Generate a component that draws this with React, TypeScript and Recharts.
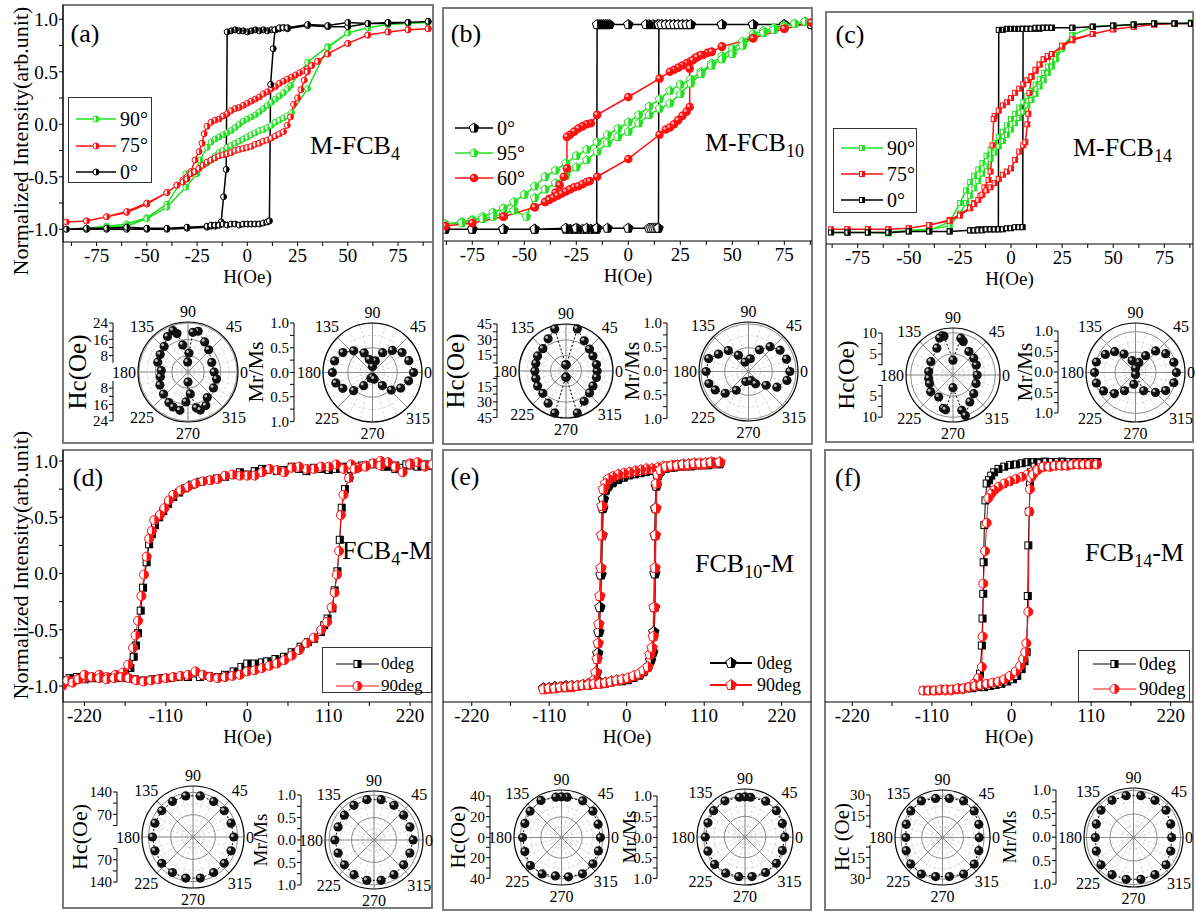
import React from 'react';
import {
  LineChart, Line, XAxis, YAxis, Legend,
  RadarChart, Radar, PolarGrid, PolarAngleAxis, PolarRadiusAxis,
} from 'recharts';

const FONT = '"Liberation Serif", "Times New Roman", serif';
const GREEN = '#22e022';
const RED = '#ff1010';
const BLACK = '#000000';

type Pt = [number, number];

// ---------- hysteresis loops: [H (Oe), normalized intensity], descending branch then ascending ----------
// (a) M-FCB4
const a90: Pt[] = [[90,0.97],[80,0.96],[70,0.95],[60,0.92],[50,0.87],[40,0.74],[30,0.59],[21.5,0.37],[20,0.34],[18,0.3],[16,0.27],[14,0.24],[12,0.21],[10,0.18],[8,0.15],[6,0.12],[4,0.09],[2,0.07],[0,0.05],[-2,0.03],[-4,0.0],[-6,-0.03],[-8,-0.06],[-10,-0.08],[-12,-0.1],[-14,-0.12],[-16,-0.14],[-18,-0.17],[-20,-0.22],[-23.5,-0.34],[-26,-0.45],[-30.6,-0.47],[-40,-0.76],[-50,-0.89],[-60,-0.95],[-70,-0.97],[-80,-0.99],[-90,-1.0],
  [-80,-1.0],[-70,-0.98],[-60,-0.97],[-50,-0.9],[-40,-0.79],[-30.6,-0.6],[-25,-0.47],[-20,-0.37],[-18,-0.34],[-16,-0.3],[-14,-0.27],[-12,-0.25],[-10,-0.22],[-8,-0.2],[-6,-0.18],[-4,-0.16],[-2,-0.14],[0,-0.12],[2,-0.1],[4,-0.08],[6,-0.06],[8,-0.05],[10,-0.03],[12,-0.01],[14,0.02],[16,0.04],[18,0.06],[20,0.08],[22,0.11],[30,0.34],[40,0.73],[50,0.87],[60,0.92],[70,0.95],[80,0.96],[90,0.97]];
const a75: Pt[] = [[90,0.91],[80,0.9],[70,0.88],[60,0.85],[50,0.77],[40,0.67],[35,0.6],[32,0.56],[30,0.53],[28,0.51],[26,0.49],[24,0.47],[22,0.45],[20,0.43],[18,0.41],[16,0.39],[14,0.36],[12,0.34],[10,0.31],[8,0.29],[6,0.26],[4,0.24],[2,0.22],[0,0.2],[-2,0.18],[-4,0.16],[-6,0.15],[-8,0.13],[-10,0.1],[-12,0.08],[-14,0.05],[-16,0.04],[-18,0.02],[-20,-0.02],[-21.5,-0.09],[-22.5,-0.18],[-24,-0.26],[-26,-0.34],[-28,-0.45],[-30,-0.5],[-32,-0.53],[-35,-0.58],[-40,-0.65],[-50,-0.76],[-60,-0.84],[-70,-0.88],[-80,-0.92],[-90,-0.93],
  [-80,-0.92],[-70,-0.88],[-60,-0.83],[-50,-0.75],[-40,-0.65],[-35,-0.58],[-32,-0.55],[-30,-0.52],[-28,-0.47],[-26,-0.45],[-24,-0.42],[-22,-0.39],[-20,-0.36],[-18,-0.34],[-16,-0.32],[-14,-0.3],[-12,-0.29],[-10,-0.28],[-8,-0.27],[-6,-0.25],[-4,-0.24],[-2,-0.23],[0,-0.22],[2,-0.21],[4,-0.19],[6,-0.18],[8,-0.16],[10,-0.15],[12,-0.13],[14,-0.11],[16,-0.09],[18,-0.07],[19.9,-0.01],[21.5,0.07],[23,0.19],[25,0.25],[26.7,0.33],[28.3,0.42],[29.9,0.5],[32,0.56],[35,0.6],[40,0.67],[50,0.77],[60,0.85],[70,0.88],[80,0.9],[90,0.91]];
const a0: Pt[] = [[90,0.98],[80,0.97],[70,0.96],[60,0.96],[50,0.93],[40,0.93],[30,0.94],[20,0.91],[18,0.92],[16,0.91],[14,0.9],[12,0.9],[10,0.89],[8,0.9],[6,0.89],[4,0.9],[2,0.89],[0,0.88],[-2,0.89],[-4,0.89],[-6,0.9],[-8,0.89],[-10,0.88],[-10.5,-0.43],[-11.8,-0.69],[-13,-0.93],[-14,-0.96],[-16,-0.97],[-18,-0.97],[-20,-0.98],[-30,-0.99],[-40,-1.0],[-50,-1.0],[-60,-1.0],[-70,-1.0],[-80,-1.0],[-90,-1.0],
  [-80,-0.99],[-70,-0.99],[-60,-0.98],[-50,-0.99],[-40,-0.99],[-30,-0.98],[-20,-0.97],[-18,-0.96],[-16,-0.96],[-14,-0.96],[-12,-0.95],[-10,-0.96],[-8,-0.95],[-6,-0.95],[-4,-0.96],[-2,-0.95],[0,-0.95],[2,-0.95],[4,-0.95],[6,-0.95],[8,-0.94],[10,-0.93],[11,-0.92],[11.6,0.38],[12.9,0.72],[13.8,0.9],[16,0.92],[18,0.92],[20,0.92],[30,0.95],[40,0.94],[50,0.97],[60,0.96],[70,0.97],[80,0.97],[90,0.98]];

// (b) M-FCB10
const b0: Pt[] = [[88,0.95],[75,0.95],[60,0.95],[45,0.95],[30,0.95],[28,0.95],[26,0.95],[24,0.95],[22,0.95],[20,0.95],[18,0.95],[16,0.95],[14,0.95],[12,0.95],[10,0.95],[8.5,0.95],[0,0.95],[-9,0.95],[-10,0.95],[-11,0.95],[-12,0.95],[-13,0.95],[-14,0.95],[-15,0.95],[-15.2,-1.0],[-16,-1.0],[-18,-1.0],[-20,-1.0],[-22,-1.0],[-24,-1.0],[-26,-1.0],[-28,-1.0],[-30,-1.0],[-45,-1.0],[-60,-1.0],[-75,-1.0],[-88,-1.0],
  [-75,-1.0],[-60,-1.0],[-45,-1.0],[-30,-0.99],[-25,-0.99],[-20,-0.99],[-15,-0.99],[-10,-0.99],[0,-0.99],[10,-0.99],[11,-0.99],[12,-0.99],[13,-0.99],[14,-0.99],[14.5,-0.99],[14.7,0.95],[16,0.95],[18,0.95],[20,0.95],[22,0.95],[24,0.95],[26,0.95],[28,0.95],[30,0.95],[45,0.95],[60,0.95],[75,0.95],[88,0.95]];
const b95: Pt[] = [[90,1.0],[85,0.98],[80,0.96],[75,0.94],[70,0.92],[65,0.89],[60,0.86],[55,0.79],[50,0.72],[45,0.65],[40,0.58],[35,0.5],[30,0.43],[25,0.38],[20,0.32],[15,0.24],[10,0.17],[5,0.09],[0,0.02],[-5,-0.04],[-10,-0.1],[-15,-0.17],[-20,-0.24],[-25,-0.3],[-30,-0.37],[-35,-0.44],[-40,-0.5],[-45,-0.59],[-50,-0.67],[-55,-0.74],[-60,-0.8],[-65,-0.84],[-70,-0.88],[-75,-0.91],[-80,-0.93],[-88,-0.95],
  [-80,-0.94],[-75,-0.92],[-70,-0.9],[-65,-0.88],[-60,-0.85],[-55,-0.82],[-49,-0.88],[-45,-0.7],[-40,-0.62],[-35,-0.56],[-30,-0.49],[-25,-0.41],[-20,-0.34],[-15,-0.26],[-10,-0.18],[-5,-0.12],[0,-0.07],[5,0.01],[10,0.09],[15,0.15],[20,0.2],[25,0.29],[30,0.39],[35,0.48],[40,0.56],[45,0.62],[50,0.67],[55,0.75],[60,0.83],[65,0.87],[70,0.9],[75,0.93],[80,0.96],[85,0.98],[90,1.0]];
const b60: Pt[] = [[88,0.97],[75,0.91],[60,0.82],[45,0.74],[40,0.69],[38,0.68],[36,0.66],[34,0.65],[32,0.63],[30,0.6],[28,0.58],[26,0.56],[24,0.54],[22,0.52],[20,0.5],[15,0.435],[0,0.26],[-15,0.09],[-18,0.01],[-20,0.0],[-22,-0.02],[-24,-0.04],[-26,-0.07],[-28,-0.1],[-29.5,-0.12],[-29.5,-0.42],[-31,-0.5],[-33,-0.58],[-35,-0.65],[-38,-0.71],[-40,-0.74],[-45,-0.79],[-60,-0.88],[-75,-0.94],[-88,-0.97],
  [-75,-0.94],[-60,-0.88],[-45,-0.79],[-40,-0.74],[-38,-0.72],[-36,-0.7],[-34,-0.68],[-32,-0.66],[-30,-0.64],[-28,-0.62],[-26,-0.6],[-24,-0.59],[-22,-0.57],[-20,-0.55],[-18.5,-0.54],[-15,-0.5],[0,-0.33],[15,-0.1],[18,-0.05],[20,-0.03],[22,0.0],[24,0.04],[26,0.08],[28,0.12],[29.5,0.165],[29.5,0.53],[31,0.61],[33,0.64],[35,0.66],[40,0.69],[45,0.74],[60,0.82],[75,0.91],[88,0.97]];

// (c) M-FCB14
const c90: Pt[] = [[88,0.97],[80,0.96],[70,0.96],[60,0.95],[50,0.94],[40,0.93],[30,0.85],[25,0.74],[22,0.66],[20,0.6],[18,0.55],[16,0.49],[14,0.43],[12,0.38],[10,0.32],[8,0.27],[6,0.21],[4,0.16],[2,0.1],[0,0.05],[-2,-0.01],[-4,-0.07],[-6,-0.12],[-8,-0.18],[-10,-0.24],[-12,-0.3],[-14,-0.37],[-16,-0.43],[-18,-0.49],[-20,-0.55],[-22,-0.63],[-25,-0.75],[-30,-0.93],[-40,-1.01],[-50,-1.01],[-60,-1.03],[-70,-1.03],[-80,-1.03],[-88,-1.03],
  [-80,-1.03],[-70,-1.03],[-60,-1.04],[-50,-1.01],[-40,-1.0],[-30,-0.97],[-25,-0.85],[-22,-0.75],[-20,-0.68],[-18,-0.61],[-16,-0.54],[-14,-0.47],[-12,-0.4],[-10,-0.33],[-8,-0.27],[-6,-0.21],[-4,-0.16],[-2,-0.1],[0,-0.05],[2,0.01],[4,0.06],[6,0.12],[8,0.18],[10,0.23],[12,0.29],[14,0.36],[16,0.42],[18,0.49],[20,0.55],[22,0.62],[25,0.72],[30,0.85],[40,0.93],[50,0.94],[60,0.95],[70,0.96],[80,0.96],[88,0.97]];
const c75: Pt[] = [[88,0.96],[80,0.96],[70,0.95],[60,0.93],[50,0.905],[40,0.86],[30,0.8],[25,0.74],[20,0.67],[18,0.64],[16,0.62],[14,0.57],[12,0.51],[10,0.46],[8,0.42],[6,0.38],[4,0.34],[2,0.3],[0,0.25],[-2,0.21],[-4,0.18],[-6,0.13],[-8,0.08],[-8.5,0.05],[-9,-0.2],[-10,-0.45],[-11,-0.53],[-13,-0.6],[-15,-0.68],[-18,-0.75],[-20,-0.79],[-25,-0.86],[-30,-0.91],[-40,-0.96],[-50,-0.99],[-60,-1.0],[-70,-1.0],[-80,-1.0],[-88,-1.0],
  [-80,-1.0],[-70,-1.0],[-60,-1.0],[-50,-0.99],[-40,-0.96],[-30,-0.92],[-25,-0.87],[-20,-0.8],[-18,-0.76],[-16,-0.72],[-14,-0.67],[-12,-0.63],[-10,-0.6],[-8,-0.56],[-6,-0.52],[-4,-0.48],[-2,-0.45],[0,-0.42],[2,-0.34],[4,-0.26],[6,-0.2],[7,-0.17],[8,0.0],[8.5,0.1],[9,0.3],[10,0.45],[12,0.52],[14,0.57],[16,0.62],[18,0.65],[20,0.67],[25,0.75],[30,0.81],[40,0.86],[50,0.905],[60,0.93],[70,0.95],[80,0.96],[88,0.96]];
const c0: Pt[] = [[88,0.96],[80,0.96],[70,0.96],[60,0.95],[50,0.94],[40,0.93],[30,0.92],[20,0.92],[18,0.92],[16,0.92],[14,0.91],[12,0.91],[10,0.91],[8,0.91],[6,0.91],[4,0.91],[2,0.91],[0,0.91],[-2,0.91],[-4,0.9],[-6,0.9],[-6.2,-1.0],[-8,-1.0],[-10,-1.0],[-12,-1.0],[-14,-1.0],[-16,-1.0],[-18,-1.01],[-20,-1.01],[-30,-1.02],[-40,-1.02],[-50,-1.02],[-60,-1.03],[-70,-1.03],[-80,-1.03],[-88,-1.03],
  [-80,-1.03],[-70,-1.03],[-60,-1.03],[-50,-1.02],[-40,-1.02],[-30,-1.02],[-20,-1.01],[-18,-1.01],[-16,-1.01],[-14,-1.01],[-12,-1.0],[-10,-1.0],[-8,-1.0],[-6,-1.0],[-4,-1.0],[-2,-0.99],[0,-0.99],[2,-0.98],[4,-0.98],[5.7,-0.98],[5.9,0.91],[8,0.91],[10,0.91],[12,0.92],[14,0.92],[16,0.92],[18,0.92],[20,0.92],[30,0.92],[40,0.93],[50,0.94],[60,0.95],[70,0.96],[80,0.96],[88,0.96]];

// (d) FCB4-M
const d0: Pt[] = [[250,0.96],[240,0.97],[230,0.98],[220,0.96],[210,0.94],[200,0.93],[190,0.95],[180,0.97],[170,0.98],[160,0.96],[150,0.95],[140,0.93],[130,0.95],[120,0.93],[110,0.92],[100,0.93],[90,0.94],[80,0.91],[70,0.93],[60,0.95],[50,0.92],[40,0.91],[27,0.92],[20,0.93],[10,0.91],[0,0.88],[-10,0.9],[-18.5,0.875],[-30,0.86],[-41,0.845],[-50,0.83],[-63.6,0.816],[-75,0.79],[-84,0.757],[-92,0.72],[-100,0.68],[-107,0.62],[-113.5,0.555],[-119,0.5],[-124.7,0.43],[-129,0.35],[-132.6,0.26],[-136,0.1],[-140.8,-0.126],[-144,-0.33],[-147.6,-0.53],[-150.5,-0.64],[-153.5,-0.74],[-158,-0.84],[-165,-0.89],[-175,-0.91],[-188,-0.92],[-200,-0.92],[-212,-0.93],[-224,-0.93],[-236,-0.94],[-250,-0.95],
  [-240,-0.93],[-230,-0.92],[-220,-0.94],[-210,-0.93],[-200,-0.93],[-188,-0.92],[-176,-0.93],[-164,-0.93],[-152,-0.94],[-140,-0.95],[-128,-0.94],[-116,-0.93],[-104,-0.93],[-92,-0.92],[-80,-0.92],[-64,-0.92],[-52,-0.91],[-40,-0.92],[-30,-0.9],[-18.5,-0.87],[-8,-0.83],[0,-0.8],[10,-0.8],[20,-0.79],[27,-0.78],[38,-0.76],[49.6,-0.74],[60,-0.7],[72,-0.65],[82,-0.61],[90,-0.58],[99.4,-0.52],[104,-0.46],[108.4,-0.4],[115,-0.31],[118,-0.15],[121.8,0.02],[125,0.3],[127.6,0.585],[132,0.75],[137.5,0.85],[145,0.93],[155,0.96],[170,0.97],[185,0.95],[200,0.96],[215,0.97],[230,0.95],[250,0.96]];
const d90: Pt[] = [[250,0.97],[240,0.95],[230,0.99],[220,0.98],[210,0.9],[200,0.95],[190,0.99],[180,1.0],[170,0.98],[160,0.96],[150,0.94],[140,0.97],[130,0.93],[120,0.97],[110,0.95],[100,0.95],[90,0.93],[80,0.93],[70,0.95],[60,0.94],[50,0.9],[40,0.92],[30,0.93],[20,0.9],[10,0.87],[0,0.87],[-10,0.87],[-20,0.88],[-30,0.87],[-40,0.84],[-50,0.83],[-60,0.82],[-70,0.8],[-80,0.77],[-90,0.74],[-100,0.7],[-106,0.65],[-112,0.58],[-118,0.52],[-125.6,0.475],[-129,0.38],[-132.6,0.31],[-136,0.15],[-139.5,-0.01],[-143,-0.2],[-147.6,-0.42],[-151,-0.55],[-154.4,-0.66],[-161,-0.81],[-168,-0.88],[-178,-0.9],[-190,-0.92],[-200,-0.9],[-210,-0.92],[-220,-0.93],[-230,-0.94],[-240,-0.96],[-250,-0.98],
  [-250,-1.0],[-243,-0.95],[-236,-0.97],[-228,-0.94],[-220,-0.9],[-210,-0.92],[-200,-0.93],[-190,-0.94],[-180,-0.93],[-170,-0.92],[-160,-0.93],[-150,-0.95],[-140,-0.96],[-130,-0.95],[-120,-0.94],[-110,-0.93],[-100,-0.92],[-90,-0.91],[-80,-0.9],[-70,-0.87],[-60,-0.9],[-50,-0.92],[-40,-0.93],[-30,-0.92],[-20,-0.91],[-10,-0.9],[0,-0.87],[10,-0.86],[20,-0.84],[30,-0.82],[40,-0.8],[50,-0.77],[60,-0.73],[70,-0.68],[80,-0.62],[90,-0.57],[100,-0.5],[108,-0.43],[114,-0.3],[118,-0.17],[121,-0.01],[124,0.2],[126.5,0.52],[130,0.7],[137.5,0.85],[145,0.93],[160,0.95],[180,0.96],[200,0.95],[220,0.97],[240,0.96],[250,0.97]];

// (e) FCB10-M
const e0: Pt[] = [[132,0.98],[124,0.98],[116,0.97],[108,0.97],[100,0.97],[92,0.96],[84,0.96],[76,0.96],[68,0.95],[60,0.95],[52,0.94],[44,0.93],[36,0.92],[28,0.91],[20,0.9],[12,0.89],[4,0.88],[-4,0.86],[-12,0.84],[-20,0.81],[-26,0.78],[-30,0.74],[-33,0.66],[-34,0.58],[-35,0.34],[-36.5,-0.01],[-38,-0.3],[-39.5,-0.52],[-41,-0.71],[-43,-0.88],[-47,-0.96],[-54,-0.98],[-62,-0.99],[-70,-1.0],[-78,-1.0],[-86,-1.01],[-94,-1.01],[-102,-1.01],[-110,-1.02],[-118,-1.02],
  [-110,-1.02],[-102,-1.01],[-94,-1.01],[-86,-1.0],[-78,-1.0],[-70,-1.0],[-62,-0.99],[-54,-0.99],[-46,-0.98],[-38,-0.97],[-30,-0.97],[-22,-0.96],[-14,-0.95],[-6,-0.95],[2,-0.94],[10,-0.92],[18,-0.9],[24,-0.87],[30,-0.83],[34,-0.77],[37,-0.7],[38.5,-0.52],[39.5,-0.3],[40,0.0],[40.5,0.34],[41,0.58],[42,0.78],[44,0.87],[48,0.91],[56,0.94],[64,0.95],[72,0.96],[80,0.96],[88,0.97],[96,0.97],[104,0.97],[112,0.98],[120,0.98],[132,0.98]];
const e90: Pt[] = [[132,0.99],[124,0.98],[116,0.98],[108,0.97],[100,0.97],[92,0.97],[84,0.96],[76,0.96],[68,0.96],[60,0.95],[52,0.95],[44,0.94],[36,0.93],[28,0.93],[20,0.92],[12,0.91],[4,0.9],[-4,0.89],[-12,0.88],[-20,0.86],[-26,0.84],[-30,0.8],[-33,0.75],[-35,0.6],[-35.5,0.34],[-36.5,0.05],[-38,-0.2],[-39.5,-0.45],[-40.5,-0.62],[-42,-0.76],[-44,-0.88],[-47,-0.95],[-54,-0.98],[-62,-0.99],[-70,-1.0],[-78,-1.01],[-86,-1.01],[-94,-1.01],[-102,-1.02],[-110,-1.02],[-118,-1.03],
  [-110,-1.02],[-102,-1.02],[-94,-1.01],[-86,-1.01],[-78,-1.0],[-70,-1.0],[-62,-0.99],[-54,-0.99],[-46,-0.98],[-38,-0.98],[-30,-0.97],[-22,-0.96],[-14,-0.95],[-6,-0.94],[2,-0.93],[10,-0.91],[18,-0.89],[24,-0.86],[30,-0.83],[33,-0.72],[36,-0.66],[37.8,-0.56],[39,-0.3],[40.2,0.05],[40.6,0.34],[41.6,0.58],[42,0.8],[44,0.88],[48,0.92],[56,0.95],[64,0.96],[72,0.96],[80,0.97],[88,0.97],[96,0.98],[104,0.98],[112,0.98],[120,0.99],[132,0.99]];

// (f) FCB14-M
const f0: Pt[] = [[118,0.99],[110,0.99],[102,0.99],[94,0.99],[86,0.99],[78,0.99],[70,0.995],[62,0.99],[54,0.99],[46,0.995],[38,0.99],[30,0.99],[22,0.99],[14,0.98],[6,0.97],[-2,0.965],[-10,0.95],[-18,0.93],[-24,0.9],[-28,0.87],[-31,0.83],[-34.3,0.8],[-36,0.65],[-37.5,0.43],[-38.5,0.1],[-39,-0.18],[-40,-0.4],[-41,-0.64],[-43.5,-0.89],[-47,-0.96],[-54,-1.0],[-62,-1.02],[-70,-1.03],[-78,-1.03],[-86,-1.03],[-94,-1.03],[-102,-1.04],[-110,-1.04],[-122,-1.04],
  [-110,-1.04],[-102,-1.04],[-94,-1.03],[-86,-1.03],[-78,-1.03],[-70,-1.03],[-62,-1.02],[-54,-1.02],[-46,-1.01],[-38,-1.01],[-30,-1.0],[-22,-0.99],[-14,-0.98],[-6,-0.96],[2,-0.94],[8,-0.91],[14,-0.85],[18,-0.78],[21,-0.7],[22.5,-0.2],[23.3,0.25],[24.5,0.55],[25.6,0.79],[27,0.9],[32,0.95],[40,0.98],[48,0.99],[56,0.99],[64,0.99],[72,0.99],[80,0.99],[88,0.99],[96,0.99],[104,0.99],[112,0.99],[118,0.99]];
const f90: Pt[] = [[118,0.97],[110,0.97],[102,0.97],[94,0.97],[86,0.97],[78,0.96],[70,0.96],[62,0.96],[54,0.95],[46,0.95],[40,0.94],[34,0.92],[28,0.9],[22,0.88],[14,0.86],[6,0.84],[-2,0.82],[-10,0.8],[-18,0.77],[-24,0.74],[-28,0.71],[-32,0.67],[-34.3,0.45],[-36.5,0.2],[-39,-0.09],[-39.8,-0.56],[-41,-0.83],[-45.9,-0.93],[-52,-0.98],[-60,-1.01],[-68,-1.03],[-76,-1.03],[-84,-1.04],[-92,-1.04],[-100,-1.04],[-108,-1.04],[-116,-1.04],[-122,-1.04],
  [-114,-1.04],[-106,-1.04],[-98,-1.03],[-90,-1.03],[-82,-1.03],[-74,-1.02],[-66,-1.02],[-58,-1.01],[-50,-1.0],[-42,-0.99],[-34,-0.98],[-26,-0.97],[-18,-0.96],[-10,-0.94],[-2,-0.91],[6,-0.87],[12,-0.82],[16,-0.76],[19,-0.7],[20.5,-0.62],[23.3,-0.34],[24.6,0.55],[25.5,0.75],[26.5,0.85],[30,0.88],[36,0.92],[44,0.95],[52,0.95],[60,0.96],[68,0.96],[76,0.96],[84,0.97],[92,0.97],[100,0.97],[108,0.97],[118,0.97]];

// ---------- polar plots: [angle (deg), value] ----------
const aHc: Pt[] = [[0,13.1],[22,12.8],[47,15.2],[61,17.2],[76,21],[83,20],[87,9.5],[92,5],[101,13.8],[106,20],[110,22],[120,20.5],[133,17.5],[148,16.4],[162,15.9],[177,13.4],[190,14],[205,15.5],[222,16.5],[238,18],[247,19],[258,19.6],[266,15],[270,5],[276,11],[283,18.4],[288,20],[298,19],[307,16],[328,15],[346,14.7]];
const aMr: Pt[] = [[0,0.83],[18,0.77],[34,0.72],[48,0.6],[63,0.45],[76,0.24],[90,0.12],[104,0.27],[113,0.43],[131,0.58],[146,0.72],[163,0.8],[180,0.81],[196,0.77],[208,0.68],[224,0.53],[236,0.32],[254,0.12],[270,0.1],[284,0.14],[307,0.33],[317,0.52],[331,0.65],[347,0.75]];
const bHc: Pt[] = [[0,30],[12,30],[29,29.7],[43,31],[59,34],[75,42],[88,6],[92,6],[105,42],[119,35.5],[136,31],[152,31],[166,30],[180,30],[194,30],[208,31],[224,31],[241,35.5],[255,42],[268,6],[272,6],[285,42],[301,34],[317,31],[331,29.7],[348,30]];
const bMr: Pt[] = [[0,0.87],[18,0.84],[34,0.8],[49,0.69],[63,0.51],[82,0.27],[110,0.21],[122,0.4],[134,0.61],[150,0.73],[162,0.88],[180,0.89],[197,0.87],[209,0.8],[223,0.67],[237,0.47],[255,0.22],[285,0.2],[300,0.3],[322,0.47],[331,0.68],[347,0.83]];
const cHc: Pt[] = [[0,5.7],[23,6],[39,6.3],[56,6.7],[73,8.3],[78,8.9],[90,3.5],[103,9.4],[106,9.6],[110,9.3],[121,7.4],[149,6.1],[172,5.8],[188,5.8],[200,5.9],[217,6.6],[237,6.2],[254,8.2],[258,8.4],[270,3],[284,8.6],[287,10],[302,7.5],[318,6.6],[340,5.8]];
const cMr: Pt[] = [[0,1.0],[15,0.97],[32,0.87],[47,0.72],[59,0.48],[72,0.26],[90,0.1],[106,0.3],[122,0.53],[135,0.72],[149,0.86],[165,0.99],[180,1.0],[195,0.99],[210,0.9],[225,0.73],[239,0.52],[262,0.29],[270,0.05],[294,0.49],[315,0.69],[329,0.86],[345,0.97]];
const dHc: Pt[] = [[0,128],[20,127],[40,128],[60,129],[80,131],[100,131],[120,129],[140,128],[160,127],[180,127],[200,127],[220,128],[240,129],[260,131],[280,131],[300,129],[320,128],[340,127]];
const dMr: Pt[] = [[0,0.87],[20,0.85],[40,0.86],[60,0.89],[80,0.91],[100,0.91],[120,0.89],[140,0.86],[160,0.85],[180,0.87],[200,0.85],[220,0.86],[240,0.89],[260,0.91],[280,0.91],[300,0.89],[320,0.86],[340,0.85]];
const eHc: Pt[] = [[0,37.7],[20,37.7],[40,39.7],[60,41],[82,39.4],[90,39.4],[98,39.4],[119,41],[140,39.7],[159,38],[180,37.7],[201,38],[222,40.6],[242,40],[261,37.7],[280,38.7],[300,40.6],[320,39.7],[340,38]];
const eMr: Pt[] = [[0,0.96],[20,0.96],[40,0.99],[60,1.0],[82,0.97],[90,0.97],[98,0.97],[119,1.0],[140,0.99],[159,0.96],[180,0.96],[201,0.96],[222,0.99],[242,0.99],[261,0.97],[280,0.97],[300,0.99],[320,0.99],[340,0.96]];
const fHc: Pt[] = [[0,26.4],[20,27.8],[40,29.8],[60,30.4],[80,28.6],[100,28.6],[120,30.4],[140,29.8],[160,27.8],[180,26.4],[200,27.8],[220,29.8],[240,30.4],[260,28.6],[280,28.6],[300,30.4],[320,29.8],[340,27.8]];
const fMr: Pt[] = [[0,0.81],[20,0.84],[40,0.9],[60,0.91],[80,0.9],[100,0.9],[120,0.91],[140,0.9],[160,0.84],[180,0.81],[200,0.84],[220,0.9],[240,0.91],[260,0.9],[280,0.9],[300,0.91],[320,0.9],[340,0.84]];

// ---------- tick labels ----------
const hTicksTop = [-75, -50, -25, 0, 25, 50, 75];
const hMinorTop = [-87.5, -62.5, -37.5, -12.5, 12.5, 37.5, 62.5, 87.5];
const hTicksBot = [-220, -110, 0, 110, 220];
const hMinorBot = [-165, -55, 55, 165];
const mTicks = [-1, -0.5, 0, 0.5, 1];
const mMinor = [-0.75, -0.25, 0.25, 0.75];
const angleTicks = [0, 45, 90, 135, 180, 225, 270, 315];
const minorAngles = [0, 15, 30, 45, 60, 75, 90, 105, 120, 135, 150, 165, 180, 195, 210, 225, 240, 255, 270, 285, 300, 315, 330, 345];

// ---------- markers ----------
type Shape = 'hcircle' | 'hsquare' | 'hpent' | 'ball';

function Mark({ x, y, shape, color, r }: { x: number; y: number; shape: Shape; color: string; r: number }) {
  if (x == null || y == null || isNaN(x) || isNaN(y)) return null;
  if (shape === 'hcircle') {
    return (
      <g>
        <circle cx={x} cy={y} r={r} fill="#fff" stroke={color} strokeWidth={1} />
        <path d={`M${x},${y - r}A${r},${r} 0 0 1 ${x},${y + r}Z`} fill={color} />
      </g>
    );
  }
  if (shape === 'hsquare') {
    return (
      <g>
        <rect x={x - r} y={y - r} width={2 * r} height={2 * r} fill="#fff" stroke={color} strokeWidth={1} />
        <rect x={x} y={y - r} width={r} height={2 * r} fill={color} />
      </g>
    );
  }
  if (shape === 'hpent') {
    const pts = [
      [x, y - r], [x + 0.951 * r, y - 0.309 * r], [x + 0.588 * r, y + 0.809 * r],
      [x - 0.588 * r, y + 0.809 * r], [x - 0.951 * r, y - 0.309 * r],
    ];
    const half = [[x, y - r], [x + 0.951 * r, y - 0.309 * r], [x + 0.588 * r, y + 0.809 * r], [x, y + 0.809 * r]];
    return (
      <g>
        <polygon points={pts.map((p) => p.join(',')).join(' ')} fill="#fff" stroke={color} strokeWidth={1} />
        <polygon points={half.map((p) => p.join(',')).join(' ')} fill={color} />
      </g>
    );
  }
  return (
    <g>
      <circle cx={x} cy={y} r={r} fill={color} />
      <circle cx={x - r * 0.3} cy={y - r * 0.3} r={r * 0.35} fill="#ffb0b0" />
    </g>
  );
}

function Sphere({ x, y }: { x: number; y: number }) {
  if (x == null || y == null) return null;
  return (
    <g>
      <circle cx={x} cy={y} r={4.6} fill="#111" />
      <circle cx={x - 1.5} cy={y - 1.6} r={1.5} fill="#bbb" />
    </g>
  );
}

// ---------- hysteresis panel ----------
type Series = { name: string; pts: Pt[]; color: string; shape: Shape; r: number; w: number };
type LegendCfg = { x: number; y: number; w: number; h: number; box: boolean; row0: number; gap: number; s0: number; s1: number; tx: number; fs: number };
type Hyst = {
  x0: number; x1: number; y0: number; y1: number;
  hDom: [number, number]; mDom: [number, number];
  major: number[]; minor: number[]; showY: boolean;
  series: Series[]; legend: LegendCfg;
};

const toRows = (pts: Pt[]) => pts.map(([h, m]) => ({ h, m }));

function LegendBody({ c }: { c: Hyst }) {
  const L = c.legend;
  return (
    <div style={{ position: 'relative', width: L.w, height: L.h, boxSizing: 'border-box', border: L.box ? '1px solid #333' : 'none', fontFamily: FONT }}>
      {c.series.map((s, i) => {
        const cy = L.row0 + i * L.gap;
        return (
          <React.Fragment key={s.name}>
            <svg style={{ position: 'absolute', left: 0, top: cy - 10 }} width={L.tx} height={20}>
              <line x1={L.s0} x2={L.s1} y1={10} y2={10} stroke={s.color} strokeWidth={s.w} />
              <Mark x={(L.s0 + L.s1) / 2} y={10} shape={s.shape} color={s.color} r={s.r} />
            </svg>
            <span style={{ position: 'absolute', left: L.tx, top: cy - L.fs * 0.52, fontSize: L.fs, lineHeight: 1, whiteSpace: 'nowrap', color: '#000' }}>{s.name}</span>
          </React.Fragment>
        );
      })}
    </div>
  );
}

function HystChart({ c }: { c: Hyst }) {
  const yw = c.showY ? 46 : 0;
  const m = 2;
  const xh = 50;
  const left = c.x0 - yw - m;
  const top = c.y0 - m;
  const w = c.x1 - c.x0;
  const h = c.y1 - c.y0;
  const xt = [...c.major, ...c.minor].sort((p, q) => p - q);
  const yt = [...mTicks, ...mMinor].sort((p, q) => p - q);
  const tickStyle = { fill: '#000', fontSize: 19, fontFamily: FONT };
  return (
    <div style={{ position: 'absolute', left, top }}>
      <LineChart width={w + yw + 2 * m} height={h + xh + m} margin={{ top: m, right: m, left: m, bottom: 0 }}>
        <XAxis xAxisId="b" type="number" dataKey="h" domain={c.hDom} allowDataOverflow ticks={xt} interval={0}
          tickFormatter={(v: number) => (c.major.includes(v) ? String(v) : '')}
          height={xh} stroke="#000" tickSize={4} tickMargin={3} tick={tickStyle}
          label={{ value: 'H(Oe)', position: 'insideBottom', offset: 9, fill: '#000', fontSize: 19, fontFamily: FONT }} />
        <XAxis xAxisId="t" orientation="top" type="number" dataKey="h" domain={c.hDom} allowDataOverflow ticks={xt}
          interval={0} height={0} mirror tick={false} tickSize={4} stroke="#000" />
        <YAxis yAxisId="l" type="number" domain={c.mDom} allowDataOverflow ticks={yt} interval={0}
          width={yw} mirror={!c.showY} tick={c.showY ? tickStyle : false} tickSize={4} tickMargin={1} stroke="#000"
          tickFormatter={(v: number) => (mTicks.includes(v) ? v.toFixed(1) : '')} />
        <YAxis yAxisId="r" orientation="right" type="number" domain={c.mDom} allowDataOverflow ticks={yt}
          interval={0} width={0} mirror tick={false} tickSize={4} stroke="#000" />
        {c.series.map((s) => (
          <Line key={s.name} name={s.name} xAxisId="b" yAxisId="l" data={toRows(s.pts)} dataKey="m" type="linear"
            stroke={s.color} strokeWidth={s.w} isAnimationActive={false} activeDot={false}
            dot={(p: any) => <Mark key={`d${p.index}`} x={p.cx} y={p.cy} shape={s.shape} color={s.color} r={s.r} />} />
        ))}
        <Legend layout="vertical" align="center" verticalAlign="middle"
          wrapperStyle={{ left: c.legend.x - left, top: c.legend.y - top, width: c.legend.w, height: c.legend.h }}
          content={() => <LegendBody c={c} />} />
      </LineChart>
    </div>
  );
}

// ---------- polar panel ----------
type PolarCfg = {
  cx: number; cy: number; R: number; dmax: number; pts: Pt[];
  ticks: number[]; minor: number[]; lo: number; ax: number; lx: number;
  label: string; lfs: number; dec: number;
};

function VText({ x, y, text, fs, rotate }: { x: number; y: number; text: React.ReactNode; fs: number; rotate?: boolean }) {
  return (
    <div style={{
      position: 'absolute', left: x, top: y, fontSize: fs, lineHeight: 1, fontFamily: FONT, whiteSpace: 'nowrap', color: '#000',
      transform: `translate(-50%,-50%)${rotate ? ' rotate(-90deg)' : ''}`,
    }}>{text}</div>
  );
}

function RadialScale({ p, half }: { p: PolarCfg; half: 'top' | 'bottom' }) {
  const px = (v: number) => (v / p.dmax) * p.R;
  const tMax = Math.max(...p.ticks);
  const hi = px(tMax);
  const loPx = px(p.lo);
  const plotH = hi - loPx;
  const pad = 10;
  const top = half === 'top' ? p.cy - hi - pad : p.cy + loPx - pad;
  const all = [...p.ticks, ...p.minor]
    .filter((v) => v >= p.lo && v <= tMax && !(half === 'bottom' && v === 0))
    .sort((a, b) => a - b);
  return (
    <div style={{ position: 'absolute', left: p.ax - 50, top }}>
      <LineChart width={53} height={plotH + 2 * pad} margin={{ top: pad, bottom: pad, left: 0, right: 3 }}>
        <XAxis hide />
        <YAxis type="number" domain={[p.lo, tMax]} allowDataOverflow reversed={half === 'bottom'} ticks={all} interval={0}
          width={50} stroke="#000" tickSize={4} tickMargin={1}
          tick={{ fill: '#000', fontSize: 15, fontFamily: FONT }}
          tickFormatter={(v: number) => (p.ticks.includes(v) ? v.toFixed(p.dec) : '')} />
      </LineChart>
    </div>
  );
}

function PolarPlot({ p }: { p: PolarCfg }) {
  const S = p.R + 30;
  const px = (v: number) => (v / p.dmax) * p.R;
  const majorR = p.ticks.filter((v) => v > 0).map(px);
  const minorR = p.minor.map(px);
  const rows = p.pts.map(([ang, v]) => ({ ang, v }));
  const angleTick = (props: any) => {
    const a = Number(props.payload?.value ?? 0);
    const rad = (a * Math.PI) / 180;
    const c = Math.cos(rad);
    const s = Math.sin(rad);
    let tx: number;
    let ty: number;
    let anchor: 'start' | 'middle' | 'end' = 'middle';
    if (a === 0) { tx = S + p.R + 2; ty = S; anchor = 'start'; }
    else if (a === 180) { tx = S - p.R - 2; ty = S; anchor = 'end'; }
    else {
      const d = a % 90 === 0 ? p.R + 11 : p.R + 15;
      tx = S + d * c;
      ty = S - d * s;
    }
    return (
      <text x={tx} y={ty} textAnchor={anchor} dominantBaseline="central" fontSize={16} fontFamily={FONT} fill="#000">{a}</text>
    );
  };
  return (
    <>
      <div style={{ position: 'absolute', left: p.cx - S, top: p.cy - S }}>
        <RadarChart width={2 * S} height={2 * S} cx={S} cy={S} outerRadius={p.R} innerRadius={0}
          startAngle={0} endAngle={360} data={rows} margin={{ top: 0, right: 0, bottom: 0, left: 0 }}>
          <PolarGrid gridType="circle" polarAngles={minorAngles} polarRadius={minorR} stroke="#d2d2d2" strokeDasharray="3 2" strokeWidth={0.8} />
          <PolarGrid gridType="circle" polarAngles={angleTicks} polarRadius={majorR} stroke="#8c8c8c" strokeWidth={1} />
          <PolarGrid gridType="circle" polarAngles={[]} polarRadius={[p.R]} stroke="#000" strokeWidth={1.2} />
          <PolarAngleAxis dataKey="ang" type="number" domain={[0, 360]} ticks={angleTicks} axisLine={false}
            tickLine={false} tickSize={8} tick={angleTick} />
          <PolarRadiusAxis type="number" domain={[0, p.dmax]} tick={false} axisLine={false} tickLine={false} />
          <Radar dataKey="v" stroke="#000" strokeWidth={1} strokeDasharray="2 2" fill="none" fillOpacity={0}
            isAnimationActive={false}
            dot={(d: any) => <Sphere key={`s${d.index}`} x={d.cx} y={d.cy} />} />
        </RadarChart>
      </div>
      <RadialScale p={p} half="top" />
      <RadialScale p={p} half="bottom" />
      <VText x={p.lx} y={p.cy} text={p.label} fs={p.lfs} rotate />
    </>
  );
}

// ---------- panel configurations ----------
const panels: Hyst[] = [
  {
    x0: 63, x1: 432, y0: 5, y1: 242, hDom: [-91.7, 91.9], mDom: [-1.121, 1.136], major: hTicksTop, minor: hMinorTop, showY: true,
    series: [
      { name: '90°', pts: a90, color: GREEN, shape: 'hcircle', r: 3, w: 1.5 },
      { name: '75°', pts: a75, color: RED, shape: 'hcircle', r: 3, w: 1.5 },
      { name: '0°', pts: a0, color: BLACK, shape: 'hcircle', r: 3, w: 1.5 },
    ],
    legend: { x: 68, y: 97, w: 84, h: 86, box: true, row0: 21, gap: 26.5, s0: 7, s1: 47, tx: 51, fs: 20 },
  },
  {
    x0: 444, x1: 812, y0: 8, y1: 241, hDom: [-88.6, 88.3], mDom: [-1.112, 1.108], major: hTicksTop, minor: hMinorTop, showY: false,
    series: [
      { name: '0°', pts: b0, color: BLACK, shape: 'hpent', r: 5, w: 1.5 },
      { name: '95°', pts: b95, color: GREEN, shape: 'hpent', r: 4.5, w: 1.5 },
      { name: '60°', pts: b60, color: RED, shape: 'ball', r: 4.3, w: 1.5 },
    ],
    legend: { x: 452, y: 114, w: 80, h: 80, box: false, row0: 14, gap: 25, s0: 3, s1: 41, tx: 45, fs: 20 },
  },
  {
    x0: 826, x1: 1193, y0: 12, y1: 244, hDom: [-90.5, 89], mDom: [-1.14, 1.07], major: hTicksTop, minor: hMinorTop, showY: false,
    series: [
      { name: '90°', pts: c90, color: GREEN, shape: 'hsquare', r: 2.5, w: 1.5 },
      { name: '75°', pts: c75, color: RED, shape: 'hsquare', r: 2.5, w: 1.5 },
      { name: '0°', pts: c0, color: BLACK, shape: 'hsquare', r: 2.5, w: 1.5 },
    ],
    legend: { x: 833, y: 128, w: 84, h: 85, box: true, row0: 19, gap: 26, s0: 7, s1: 49, tx: 53, fs: 20 },
  },
  {
    x0: 63, x1: 432, y0: 450, y1: 702, hDom: [-249, 249.6], mDom: [-1.142, 1.098], major: hTicksBot, minor: hMinorBot, showY: true,
    series: [
      { name: '0deg', pts: d0, color: BLACK, shape: 'hsquare', r: 3.5, w: 1 },
      { name: '90deg', pts: d90, color: RED, shape: 'hcircle', r: 4.5, w: 1 },
    ],
    legend: { x: 322, y: 647, w: 110, h: 46, box: true, row0: 16, gap: 22, s0: 13, s1: 56, tx: 58, fs: 17 },
  },
  {
    x0: 443, x1: 811, y0: 450, y1: 702, hDom: [-260.8, 261.6], mDom: [-1.142, 1.098], major: hTicksBot, minor: hMinorBot, showY: false,
    series: [
      { name: '0deg', pts: e0, color: BLACK, shape: 'hpent', r: 5.5, w: 2 },
      { name: '90deg', pts: e90, color: RED, shape: 'hpent', r: 5.5, w: 2 },
    ],
    legend: { x: 705, y: 648, w: 100, h: 50, box: false, row0: 15, gap: 22, s0: 5, s1: 47, tx: 52, fs: 18 },
  },
  {
    x0: 825, x1: 1193, y0: 450, y1: 702, hDom: [-257.7, 250.8], mDom: [-1.142, 1.098], major: hTicksBot, minor: hMinorBot, showY: false,
    series: [
      { name: '0deg', pts: f0, color: BLACK, shape: 'hsquare', r: 3.5, w: 1 },
      { name: '90deg', pts: f90, color: RED, shape: 'hcircle', r: 4.5, w: 1 },
    ],
    legend: { x: 1078, y: 650, w: 112, h: 52, box: true, row0: 13, gap: 25, s0: 14, s1: 57, tx: 60, fs: 19 },
  },
];

const polars: PolarCfg[] = [
  { cx: 188, cy: 372, R: 50, dmax: 24.5, pts: aHc, ticks: [8, 16, 24], minor: [12, 20], lo: 4.5, ax: 113, lx: 77, label: 'Hc(Oe)', lfs: 25, dec: 0 },
  { cx: 372, cy: 372, R: 49.5, dmax: 1.0, pts: aMr, ticks: [0, 0.5, 1.0], minor: [0.25, 0.75], lo: 0, ax: 294, lx: 256, label: 'Mr/Ms', lfs: 22, dec: 1 },
  { cx: 566, cy: 371, R: 47, dmax: 45.3, pts: bHc, ticks: [15, 30, 45], minor: [7.5, 22.5, 37.5], lo: 6, ax: 497, lx: 455, label: 'Hc(Oe)', lfs: 25, dec: 0 },
  { cx: 748, cy: 371, R: 49.5, dmax: 1.04, pts: bMr, ticks: [0, 0.5, 1.0], minor: [0.25, 0.75], lo: 0, ax: 667, lx: 632, label: 'Mr/Ms', lfs: 21, dec: 1 },
  { cx: 953, cy: 375, R: 47, dmax: 11.1, pts: cHc, ticks: [5, 10], minor: [2.5, 7.5], lo: 2.4, ax: 882, lx: 846, label: 'Hc(Oe)', lfs: 23, dec: 0 },
  { cx: 1135, cy: 372, R: 49.5, dmax: 1.21, pts: cMr, ticks: [0, 0.5, 1.0], minor: [0.25, 0.75], lo: 0, ax: 1058, lx: 1025, label: 'Mr/Ms', lfs: 21, dec: 1 },
  { cx: 193, cy: 837, R: 51, dmax: 160, pts: dHc, ticks: [70, 140], minor: [35, 105], lo: 33, ax: 117, lx: 80, label: 'Hc(Oe)', lfs: 22, dec: 0 },
  { cx: 374, cy: 840, R: 49, dmax: 1.09, pts: dMr, ticks: [0, 0.5, 1.0], minor: [0.25, 0.75], lo: 0, ax: 301, lx: 260, label: 'Mr/Ms', lfs: 19, dec: 1 },
  { cx: 561, cy: 837, R: 47.5, dmax: 46, pts: eHc, ticks: [0, 20, 40], minor: [10, 30], lo: 0, ax: 490, lx: 458, label: 'Hc(Oe)', lfs: 21, dec: 0 },
  { cx: 745, cy: 837, R: 48, dmax: 1.16, pts: eMr, ticks: [0, 0.5, 1.0], minor: [0.25, 0.75], lo: 0, ax: 657, lx: 629, label: 'Mr/Ms', lfs: 19, dec: 1 },
  { cx: 942, cy: 837, R: 47.5, dmax: 34.2, pts: fHc, ticks: [15, 30], minor: [7.5, 22.5], lo: 6, ax: 870, lx: 842, label: 'Hc (Oe)', lfs: 21, dec: 0 },
  { cx: 1133, cy: 837, R: 49.5, dmax: 1.05, pts: fMr, ticks: [0, 0.5, 1.0], minor: [0.25, 0.75], lo: 0, ax: 1056, lx: 1009, label: 'Mr/Ms', lfs: 19, dec: 1 },
];

const frames = [
  { x: 63, y: 5, x2: 433, y2: 443 },
  { x: 443, y: 8, x2: 812, y2: 444 },
  { x: 826, y: 12, x2: 1193, y2: 442 },
  { x: 63, y: 450, x2: 432, y2: 908 },
  { x: 443, y: 450, x2: 811, y2: 910 },
  { x: 825, y: 450, x2: 1193, y2: 910 },
];

const letters = [
  { t: '(a)', x: 85, y: 34 }, { t: '(b)', x: 466, y: 34 }, { t: '(c)', x: 850, y: 35 },
  { t: '(d)', x: 88, y: 478 }, { t: '(e)', x: 465, y: 477 }, { t: '(f)', x: 848, y: 478 },
];

const samples = [
  { pre: 'M-FCB', sub: '4', post: '', x: 310, base: 155 },
  { pre: 'M-FCB', sub: '10', post: '', x: 705, base: 152 },
  { pre: 'M-FCB', sub: '14', post: '', x: 1073, base: 157 },
  { pre: 'FCB', sub: '4', post: '-M', x: 342, base: 560 },
  { pre: 'FCB', sub: '10', post: '-M', x: 695, base: 573 },
  { pre: 'FCB', sub: '14', post: '-M', x: 1085, base: 562 },
];

export default function App() {
  return (
    <div style={{ position: 'absolute', left: 0, top: 0, width: 1196, height: 913, background: '#fff', overflow: 'hidden', fontFamily: FONT }}>
      {frames.map((f, i) => (
        <div key={i} style={{ position: 'absolute', left: f.x - 1, top: f.y - 1, width: f.x2 - f.x + 2, height: f.y2 - f.y + 2, boxSizing: 'border-box', border: '2px solid #7a7a7a' }} />
      ))}
      {panels.map((c, i) => <HystChart key={i} c={c} />)}
      {polars.map((p, i) => <PolarPlot key={i} p={p} />)}
      {letters.map((l) => <VText key={l.t} x={l.x} y={l.y} text={l.t} fs={26} />)}
      {samples.map((s, i) => (
        <div key={i} style={{ position: 'absolute', left: s.x, top: s.base - 22, fontSize: 26, lineHeight: 1, whiteSpace: 'nowrap', color: '#000' }}>
          {s.pre}<span style={{ fontSize: 18, position: 'relative', top: 6 }}>{s.sub}</span>{s.post}
        </div>
      ))}
      <VText x={21} y={141} text="Normalized Intensity(arb.unit)" fs={22} rotate />
      <VText x={21} y={565} text="Normalized Intensity(arb.unit)" fs={22} rotate />
    </div>
  );
}
